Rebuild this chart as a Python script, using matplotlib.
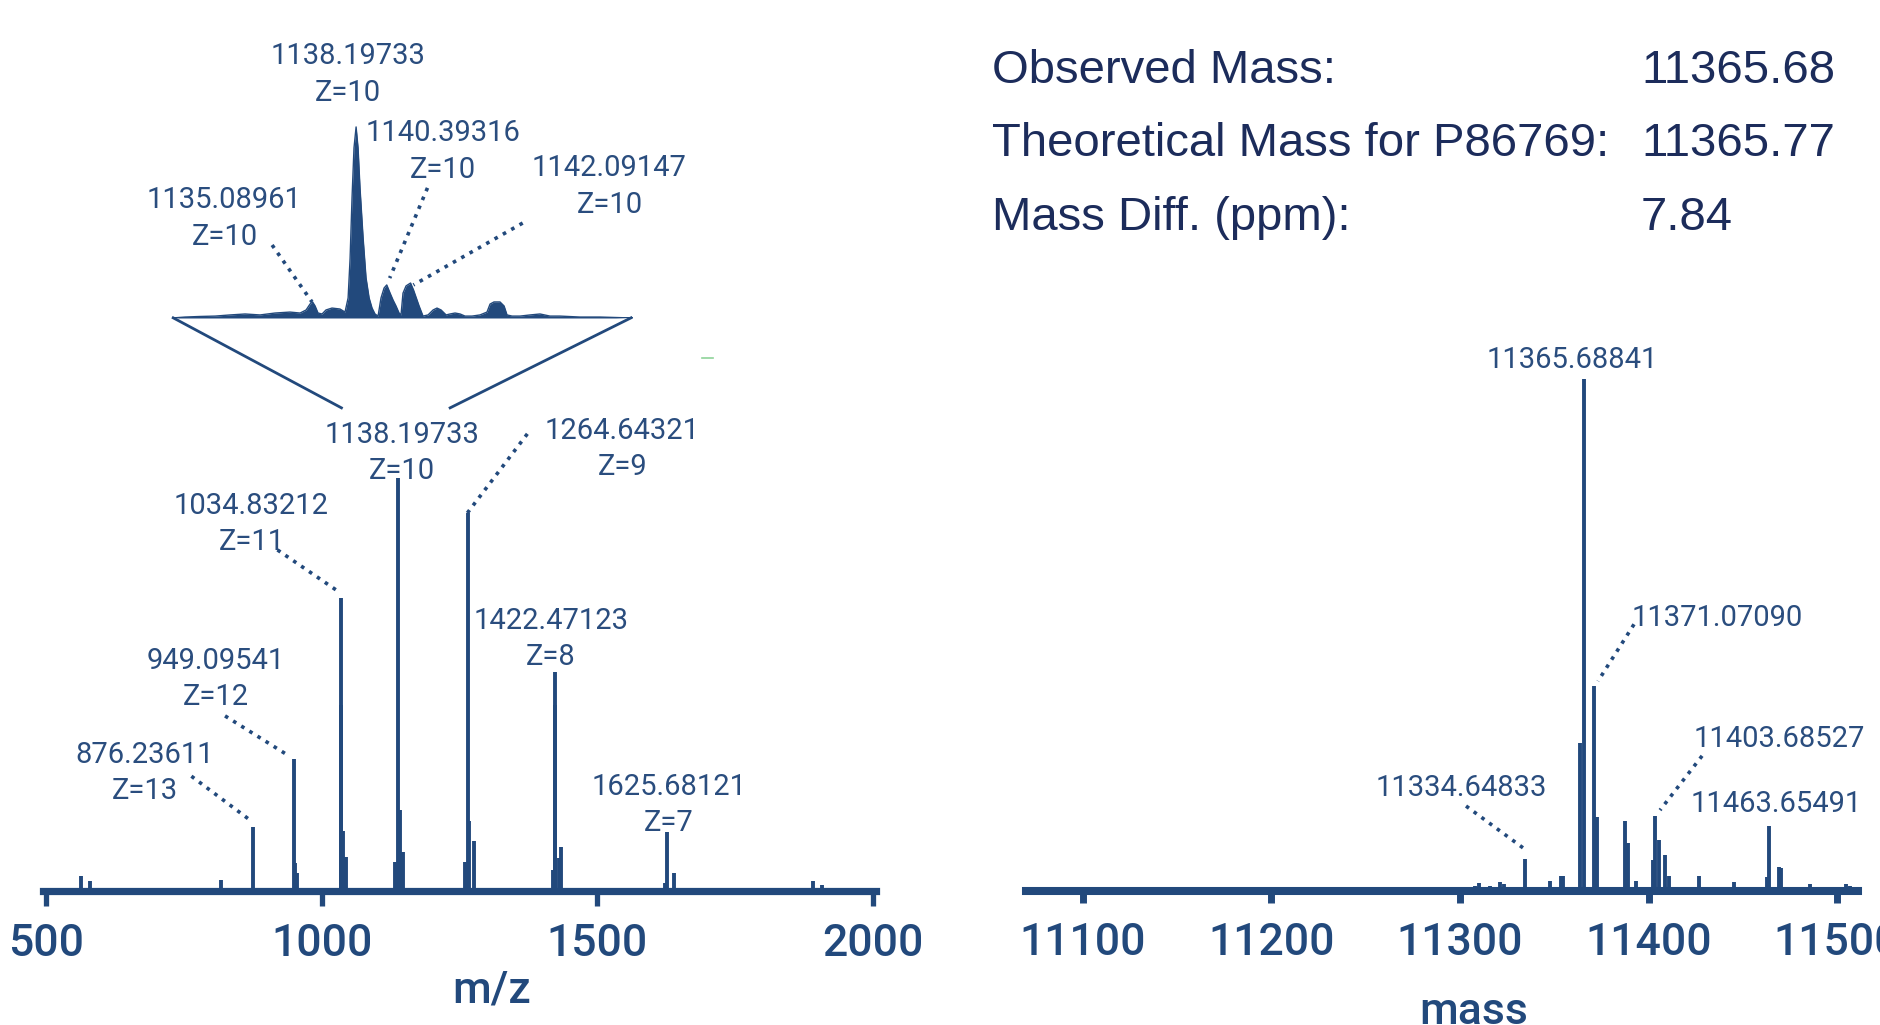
import matplotlib.pyplot as plt

plt.rcParams['font.family'] = ['Roboto', 'DejaVu Sans']

# ---- m/z spectrum (relative intensity, %) ----
mz_peaks = [563.0, 579.5, 817.0, 876.23611, 949.09541, 951.3, 955.6,
            1034.83212, 1035.9, 1039.2, 1043.6,
            1133.8, 1138.19733, 1141.5, 1148.0,
            1259.2, 1264.64321, 1267.9, 1275.5,
            1419.2, 1422.47123, 1423.6, 1430.1, 1434.5,
            1622.4, 1625.68121, 1638.8, 1891.0, 1907.0]
mz_int = [3.6, 2.4, 2.7, 15.6, 32.0, 6.8, 4.4,
          71.0, 45.0, 14.6, 8.3,
          7.0, 100.0, 19.5, 9.5,
          7.0, 91.5, 17.0, 12.0,
          5.0, 53.0, 45.0, 8.0, 10.7,
          2.0, 14.4, 4.4, 2.4, 1.5]
mz_ticks = [500, 1000, 1500, 2000]

# ---- zoomed profile around the Z=10 charge state ----
inset_mz = [1125.05, 1125.98, 1127.05, 1128.13, 1129.20, 1130.27, 1131.34, 1132.41,
            1133.48, 1134.20, 1134.63, 1134.91, 1135.09, 1135.27, 1135.48, 1135.77,
            1136.05, 1136.48, 1137.05, 1137.41, 1137.63, 1137.77, 1137.91, 1138.05,
            1138.20, 1138.34, 1138.48, 1138.70, 1138.91, 1139.13, 1139.34, 1139.55,
            1139.77, 1139.98, 1140.20, 1140.39, 1140.63, 1140.84, 1141.05, 1141.27,
            1141.41, 1141.55, 1141.77, 1142.09, 1142.30, 1142.50, 1142.70, 1142.98,
            1143.34, 1143.70, 1143.98, 1144.27, 1144.63, 1144.91, 1145.27, 1145.63,
            1145.98, 1146.48, 1147.05, 1147.55, 1147.77, 1148.05, 1148.48, 1148.77,
            1148.98, 1149.34, 1149.91, 1150.63, 1151.34, 1152.05, 1152.77, 1154.20,
            1155.63, 1157.98]
inset_int = [0.0, 0.5, 0.8, 1.0, 1.6, 2.1, 1.6, 2.6,
             3.1, 2.6, 4.2, 7.3, 8.4, 6.3, 2.6, 2.1,
             4.2, 5.2, 4.7, 3.1, 10.5, 31.0, 63.0, 89.0,
             100.0, 89.0, 68.0, 42.0, 21.0, 10.5, 5.2, 2.1,
             1.0, 10.5, 15.7, 17.3, 13.0, 9.4, 6.3, 2.6,
             1.6, 13.0, 16.8, 18.3, 14.7, 10.5, 6.3, 1.0,
             1.6, 4.2, 5.2, 4.2, 1.6, 2.1, 2.6, 2.1,
             1.0, 1.0, 1.6, 3.1, 7.3, 8.4, 8.4, 6.3,
             1.6, 1.0, 1.0, 1.6, 2.1, 1.0, 1.0, 0.5,
             0.5, 0.0]

# ---- deconvoluted mass spectrum (relative intensity, %) ----
mass_peaks = [11276.5, 11308.0, 11310.2, 11315.8, 11321.4, 11323.6, 11325.7,
              11334.64833, 11347.6, 11353.8, 11354.8,
              11363.8, 11365.68841, 11371.0709, 11372.9,
              11387.5, 11389.1, 11393.1, 11402.2, 11403.68527, 11405.3,
              11408.7, 11410.9, 11426.5, 11445.3,
              11462.6, 11463.65491, 11469.0, 11470.2,
              11485.8, 11489.0, 11504.6, 11506.7]
mass_int = [0.7, 1.0, 1.6, 1.0, 1.8, 1.4, 0.7,
            6.3, 2.0, 2.9, 2.9,
            29.0, 100.0, 40.0, 14.5,
            13.6, 9.3, 2.0, 6.0, 14.7, 10.0,
            7.0, 3.0, 3.0, 1.7,
            2.7, 12.7, 4.7, 4.5,
            1.4, 0.7, 1.4, 0.9]
mass_ticks = [11100, 11200, 11300, 11400, 11500]

summary_names = ['Observed Mass:', 'Theoretical Mass for P86769:', 'Mass Diff. (ppm):']
summary_values = ['11365.68', '11365.77', '7.84']

blue = '#22497c'
label_blue = '#2a4d7e'
navy = '#1c2c5b'
lab_kw = dict(fontsize=21, color=label_blue, ha='center', va='center',
              fontweight='normal', linespacing=1.38)
dot_kw = dict(color=blue, lw=2.6, ls=':', clip_on=False)

fig = plt.figure(figsize=(18.81, 10.25), dpi=100)

#=====================================================================
# left: m/z spectrum
#=====================================================================
ax = fig.add_axes([43/1881, 1 - 891/1025, 833/1881, 861/1025])
ax.vlines(mz_peaks, 0, mz_int, color=blue, lw=2.8)
ax.set_xlim(495, 2005)
ax.set_ylim(0, 208.5)
for s in ['left', 'top', 'right']:
    ax.spines[s].set_visible(False)
ax.spines['bottom'].set_linewidth(5.2)
ax.spines['bottom'].set_color(blue)
ax.set_yticks([])
ax.set_xticks(mz_ticks)
ax.tick_params(axis='x', direction='out', length=11, width=3.8, pad=12,
               labelsize=32, colors=blue)
for t in ax.get_xticklabels():
    t.set_fontweight('medium')
ax.text(0.538, -0.115, 'm/z', transform=ax.transAxes, ha='center', va='center',
        fontsize=32, fontweight='medium', color=blue)

ax.text(680, 28.5, '876.23611\nZ=13', **lab_kw)
ax.plot([764, 872], [27.8, 17.0], **dot_kw)
ax.text(809, 51.3, '949.09541\nZ=12', **lab_kw)
ax.plot([825, 941], [42.4, 32.7], **dot_kw)
ax.text(873, 88.8, '1034.83212\nZ=11', **lab_kw)
ax.plot([920, 1034], [82.6, 72.2], **dot_kw)
ax.text(1146, 106.0, '1138.19733\nZ=10', **lab_kw)
ax.text(1545, 107.1, '1264.64321\nZ=9', **lab_kw)
ax.plot([1373, 1264], [110.7, 91.5], **dot_kw)
ax.text(1416, 61.1, '1422.47123\nZ=8', **lab_kw)
ax.text(1630, 20.8, '1625.68121\nZ=7', **lab_kw)

# zoom funnel
ax.plot([731, 1036], [138.8, 117.0], color=blue, lw=2, clip_on=False)
ax.plot([1561, 1233], [138.8, 117.0], color=blue, lw=2, clip_on=False)
ax.plot([1689, 1709], [129, 129], color='#8fd39a', lw=1.2, clip_on=False)

#=====================================================================
# inset: zoom on Z=10
#=====================================================================
axi = fig.add_axes([172/1881, 1 - 318/1025, 461/1881, 218/1025])
axi.fill_between(inset_mz, 0, inset_int, color=blue, lw=0)
axi.plot(inset_mz, inset_int, color=blue, lw=1)
axi.axhline(0, color=blue, lw=2)
axi.set_xlim(1125.05, 1157.98)
axi.set_ylim(0, 114.1)
axi.axis('off')

axi.text(1137.6, 127.5, '1138.19733\nZ=10', clip_on=False, **lab_kw)
axi.text(1144.4, 87.2, '1140.39316\nZ=10', clip_on=False, **lab_kw)
axi.plot([1143.3, 1140.6], [68.1, 20.9], **dot_kw)
axi.text(1156.3, 68.9, '1142.09147\nZ=10', clip_on=False, **lab_kw)
axi.plot([1150.1, 1142.3], [49.7, 17.3], **dot_kw)
axi.text(1128.8, 52.1, '1135.08961\nZ=10', clip_on=False, **lab_kw)
axi.plot([1132.2, 1135.05], [38.2, 8.4], **dot_kw)

#=====================================================================
# right: deconvoluted mass
#=====================================================================
axr = fig.add_axes([1026/1881, 1 - 891/1025, 832/1881, 861/1025])
axr.vlines(mass_peaks, 0, mass_int, color=blue, lw=2.8)
axr.set_xlim(11069.8, 11511.1)
axr.set_ylim(0, 168.2)
for s in ['left', 'top', 'right']:
    axr.spines[s].set_visible(False)
axr.spines['bottom'].set_linewidth(5.8)
axr.spines['bottom'].set_color(blue)
axr.set_yticks([])
axr.set_xticks(mass_ticks)
axr.tick_params(axis='x', direction='out', length=8.5, width=5, pad=14,
                labelsize=32, colors=blue)
for t in axr.get_xticklabels():
    t.set_fontweight('medium')
axr.text(0.538, -0.1405, 'mass', transform=axr.transAxes, ha='center', va='center',
         fontsize=32, fontweight='medium', color=blue)

axr.text(11359.4, 103.7, '11365.68841', **lab_kw)
axr.text(11436.6, 53.3, '11371.07090', **lab_kw)
axr.plot([11392.3, 11373.2], [52.1, 41.0], **dot_kw)
axr.text(11469.2, 29.7, '11403.68527', **lab_kw)
axr.plot([11428.4, 11406.1], [26.4, 15.8], **dot_kw)
axr.text(11467.6, 17.0, '11463.65491', **lab_kw)
axr.text(11300.5, 20.1, '11334.64833', **lab_kw)
axr.plot([11303.2, 11335.0], [16.6, 8.0], **dot_kw)

# summary table
for i, (name, val) in enumerate(zip(summary_names, summary_values)):
    y = 1 - (83 + 73.5 * i) / 1025
    fig.text(992/1881, y, name, fontsize=34, color=navy, va='baseline',
             family=['Liberation Sans', 'DejaVu Sans'])
    fig.text(1641/1881, y, val, fontsize=34, color=navy, va='baseline',
             family=['Liberation Sans', 'DejaVu Sans'])

fig.savefig('out.png', dpi=100)
